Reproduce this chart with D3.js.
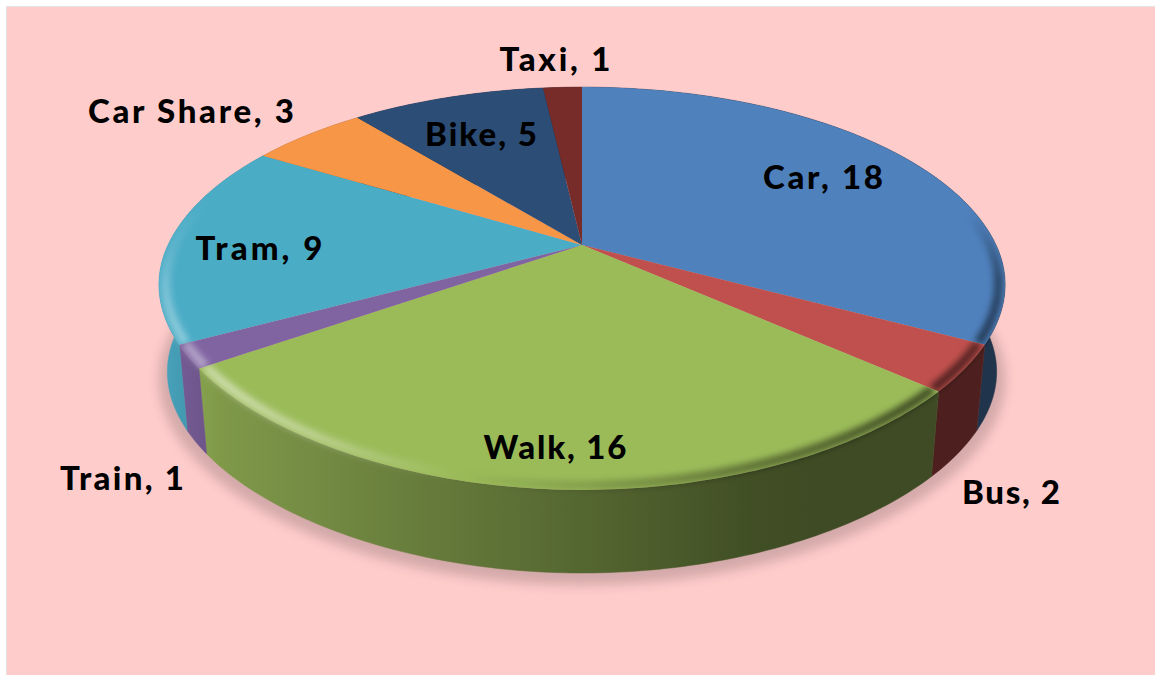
<!DOCTYPE html>
<html>
<head>
<meta charset="utf-8">
<script src="https://cdn.jsdelivr.net/npm/d3@7"></script>
<style>
  html, body { margin: 0; padding: 0; background: #fff; }
  svg { display: block; }
  text { font-family: "Lato", sans-serif; font-weight: 900; fill: #000; }
</style>
</head>
<body>
<div id="chart"></div>
<script>
const categories = ["Car", "Bus", "Walk", "Train", "Tram", "Car Share", "Bike", "Taxi"];
const values = [18, 2, 16, 1, 9, 3, 5, 1];
const colors = ["#4f81bd", "#c0504d", "#9bbb59", "#8064a2", "#4bacc6", "#f79646", "#2c4d75", "#772c2a"];

const width = 1155;
const height = 675;

// label anchors, middle x and baseline y, with the width each one takes up
const labelX = [823, 1011, 555, 122, 259, 191, 481, 555];
const labelY = [189, 504, 459, 490, 260, 123, 146, 71];
const labelW = [120, 98, 143, 124, 127, 206, 112, 111];

// the disc seen in perspective
const cx = 582;
const cy = 245;
const rx = 414;
const ry = 192;
const tilt = 0.216;
const depth = 88;
const shrink = 0.98;

function project(angle, r, bottom) {
  const sx = Math.sin(angle) * r;
  const sy = -Math.cos(angle) * r;
  const w = 1 - tilt * sy;
  const s = bottom ? shrink : 1;
  // front of the disc is a little narrower than a plain perspective gives
  const pinch = sy > 0 ? 1 - 0.05 * sy * sy : 1;
  return [cx + rx * sx / w * s * pinch, cy + ry * sy / w * s + (bottom ? depth : 0)];
}

function sampleAngles(a0, a1) {
  const n = Math.max(4, Math.ceil((a1 - a0) * 60));
  return d3.range(n + 1).map(i => a0 + (a1 - a0) * i / n);
}

const line = d3.line();
const arcs = d3.pie().sort(null).value(d => d)(values);

const svg = d3.select("#chart").append("svg")
  .attr("width", width)
  .attr("height", height);

const defs = svg.append("defs");

defs.append("filter").attr("id", "shadowBlur")
  .attr("x", "-10%").attr("y", "-10%").attr("width", "120%").attr("height", "120%")
  .append("feGaussianBlur").attr("stdDeviation", 6);

defs.append("filter").attr("id", "bevelBlur")
  .attr("filterUnits", "userSpaceOnUse")
  .attr("x", 0).attr("y", 0).attr("width", width).attr("height", height)
  .append("feGaussianBlur").attr("stdDeviation", 3);

// side shading goes from nearly full colour on the left to dark on the right
const sideX = [160, 220, 400, 580, 750, 820, 1010];
const sideK = [0.95, 0.82, 0.68, 0.55, 0.42, 0.4, 0.4];
const sideOffset = d3.scaleLinear().domain([160, 1010]).range([0, 1]);

categories.forEach((c, i) => {
  const g = defs.append("linearGradient")
    .attr("id", "side" + i)
    .attr("gradientUnits", "userSpaceOnUse")
    .attr("x1", 160).attr("x2", 1010).attr("y1", 0).attr("y2", 0);
  const base = d3.rgb(colors[i]);
  sideX.forEach((x, j) => {
    g.append("stop")
      .attr("offset", sideOffset(x))
      .attr("stop-color", d3.rgb(base.r * sideK[j], base.g * sideK[j], base.b * sideK[j]).formatHex());
  });
});

// rim strength round the disc in degrees, above zero is light, below is dark
const rimStrength = d3.scaleLinear()
  .domain([80, 100, 118, 135, 160, 180, 195, 215, 230, 240, 255, 270, 285])
  .range([0, -0.45, -0.55, -0.6, -0.4, -0.15, 0, 0.35, 0.5, 0.4, 0.3, 0.1, 0])
  .clamp(true);

// background
svg.append("rect")
  .attr("x", 6.5).attr("y", 6.5)
  .attr("width", width).attr("height", height)
  .attr("fill", "#ffcccc")
  .attr("stroke", "#e2e2e2");

// soft shadow under the disc
svg.append("path")
  .attr("d", line(sampleAngles(0, 2 * Math.PI).map(a => {
    const p = project(a, 1.02, true);
    return [p[0], p[1] + 6];
  })) + "Z")
  .attr("fill", "#000")
  .attr("opacity", 0.17)
  .attr("filter", "url(#shadowBlur)");

function wall(d) {
  const as = sampleAngles(d.startAngle, d.endAngle);
  const topEdge = as.map(a => project(a, 1, false));
  const lowEdge = as.slice().reverse().map(a => project(a, 1, true));
  return line(topEdge.concat(lowEdge)) + "Z";
}

function wedge(d) {
  const as = sampleAngles(d.startAngle, d.endAngle);
  return line([[cx, cy]].concat(as.map(a => project(a, 1, false)))) + "Z";
}

// outer wall of each slice, the top face hides the back half
svg.append("g").selectAll("path")
  .data(arcs)
  .join("path")
  .attr("d", wall)
  .attr("fill", (d, i) => `url(#side${i})`)
  .attr("stroke", (d, i) => `url(#side${i})`)
  .attr("stroke-width", 0.5);

arcs.forEach((d, i) => {
  const clip = defs.append("clipPath").attr("id", "clip" + i);
  clip.append("path").attr("d", wedge(d));
  clip.append("path").attr("d", wall(d));
});

// top faces
svg.append("g").selectAll("path")
  .data(arcs)
  .join("path")
  .attr("d", wedge)
  .attr("fill", (d, i) => colors[i]);

// bevel along the rim, built from short pieces so it can fade in and out
const bevels = svg.append("g");
arcs.forEach((d, i) => {
  const as = sampleAngles(d.startAngle, d.endAngle);
  const piece = bevels.append("g")
    .attr("clip-path", `url(#clip${i})`)
    .append("g")
    .attr("filter", "url(#bevelBlur)");
  d3.pairs(as).forEach(([a0, a1]) => {
    const k = rimStrength((a0 + a1) / 2 * 180 / Math.PI);
    if (k === 0) return;
    piece.append("path")
      .attr("d", line([project(a0, 0.985, false), project(a1, 0.985, false)]))
      .attr("fill", "none")
      .attr("stroke", k > 0 ? "#fff" : "#000")
      .attr("stroke-opacity", Math.abs(k))
      .attr("stroke-width", 9);
  });
});

// labels
svg.append("g").selectAll("text")
  .data(categories)
  .join("text")
  .attr("x", (d, i) => labelX[i])
  .attr("y", (d, i) => labelY[i])
  .attr("text-anchor", "middle")
  .attr("font-size", 33)
  .attr("textLength", (d, i) => labelW[i])
  .attr("lengthAdjust", "spacing")
  .text((d, i) => `${d}, ${values[i]}`);
</script>
</body>
</html>
